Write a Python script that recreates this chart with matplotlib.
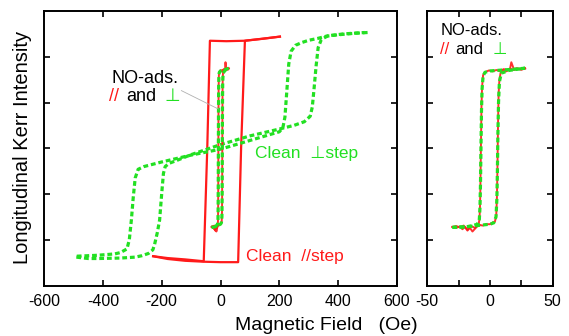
import matplotlib
matplotlib.use("Agg")
import matplotlib.pyplot as plt

plt.rcParams['font.family'] = ['Liberation Sans', 'DejaVu Sans']
plt.rcParams['axes.unicode_minus'] = False

RED = '#ff1a1a'
GREEN = '#22e022'

# Clean surface, field parallel to steps (red, solid)
par_desc_x = [202, 150, 83, 20, -36, -45, -57, -120, -180, -229]
par_desc_y = [2.44, 2.40, 2.35, 2.34, 2.35, 0.0, -2.47, -2.43, -2.40, -2.36]
par_asc_x = [-229, -180, -120, -57, 0, 60, 70, 83, 140, 202]
par_asc_y = [-2.36, -2.42, -2.46, -2.48, -2.49, -2.49, 0.0, 2.35, 2.39, 2.44]

# Clean surface, field perpendicular to steps (green, dotted)
perp_desc_x = [500, 450, 400, 360, 330, 300, 276, 255, 240, 232, 226, 219, 212, 200,
               100, 0, -100, -200, -260, -280, -290, -297, -303, -310, -318, -340,
               -360, -420, -490]
perp_desc_y = [2.53, 2.51, 2.48, 2.45, 2.40, 2.36, 2.31, 2.25, 2.12, 1.84, 1.30, 0.68,
               0.45, 0.36, 0.17, -0.02, -0.15, -0.30, -0.40, -0.46, -0.65, -1.10, -1.57,
               -2.00, -2.20, -2.28, -2.31, -2.34, -2.36]
perp_asc_x = [-490, -450, -416, -340, -290, -268, -245, -230, -224, -215, -207, -200,
              -194, -188, -175, -150, -100, -50, 0, 100, 200, 250, 285, 305, 312, 318,
              325, 332, 343, 366, 420, 490]
perp_asc_y = [-2.38, -2.41, -2.41, -2.40, -2.38, -2.35, -2.30, -2.22, -2.10, -1.85,
              -1.57, -1.00, -0.55, -0.40, -0.33, -0.27, -0.14, -0.03, 0.08, 0.27, 0.42,
              0.50, 0.58, 0.70, 0.90, 1.30, 1.80, 2.20, 2.38, 2.46, 2.50, 2.53]

# NO-adsorbed surface, parallel (red, noisy)
no_par_desc_x = [28, 25, 22, 19, 17, 16, 14, 11, 8, 5, 2, -1, -4, -5.5, -6.3, -6.8,
                 -7.1, -7.4, -7.7, -8.0, -8.4, -9.0, -10, -12, -14, -16, -18, -20, -22,
                 -24, -27, -30]
no_par_desc_y = [1.74, 1.72, 1.75, 1.73, 1.88, 1.74, 1.70, 1.73, 1.69, 1.71, 1.68, 1.70,
                 1.66, 1.60, 1.35, 0.90, 0.30, -0.30, -0.90, -1.30, -1.55, -1.65, -1.70,
                 -1.76, -1.82, -1.74, -1.80, -1.72, -1.77, -1.71, -1.74, -1.72]
no_par_asc_x = [-30, -27, -24, -21, -18, -15, -12, -9, -6, -3, 0, 2, 4, 5.0, 5.5, 5.9,
                6.2, 6.5, 6.9, 7.5, 8.5, 10, 13, 16, 19, 22, 25, 28]
no_par_asc_y = [-1.72, -1.70, -1.73, -1.69, -1.78, -1.70, -1.74, -1.67, -1.69, -1.66,
                -1.66, -1.63, -1.60, -1.45, -1.10, -0.50, 0.10, 0.70, 1.20, 1.50, 1.65,
                1.70, 1.68, 1.74, 1.71, 1.73, 1.72, 1.75]

# NO-adsorbed surface, perpendicular (green)
no_perp_desc_x = [28, 20, 10, 0, -4, -5.5, -6.3, -6.8, -7.2, -7.6, -8.0, -8.5, -10, -15,
                  -20, -25, -30]
no_perp_desc_y = [1.75, 1.73, 1.71, 1.69, 1.66, 1.58, 1.30, 0.80, 0.00, -0.80, -1.30,
                  -1.55, -1.66, -1.70, -1.72, -1.72, -1.73]
no_perp_asc_x = [-30, -20, -10, 0, 3, 4.8, 5.5, 5.9, 6.3, 6.8, 7.5, 9, 15, 20, 28]
no_perp_asc_y = [-1.73, -1.72, -1.69, -1.66, -1.63, -1.50, -1.10, -0.50, 0.30, 1.00,
                 1.45, 1.64, 1.70, 1.72, 1.75]

left_xticks = [-600, -400, -200, 0, 200, 400, 600]
right_xticks = [-50, 0, 50]
right_xminor = [-25, 25]
yticks = [-2, -1, 0, 1, 2]

W, H = 569, 336
fig = plt.figure(figsize=(W / 100, H / 100), dpi=100)
axL = fig.add_axes([44 / W, 1 - 285.5 / H, (397 - 44) / W, (285.5 - 11) / H])
axR = fig.add_axes([427.3 / W, 1 - 285.5 / H, (552.7 - 427.3) / W, (285.5 - 11) / H])

green_dash = (0, (1.5, 0.9))


def draw_no_loop(ax):
    ax.plot(no_par_desc_x, no_par_desc_y, color=RED, lw=1.4, alpha=0.9)
    ax.plot(no_par_asc_x, no_par_asc_y, color=RED, lw=1.4, alpha=0.9)
    ax.plot(no_perp_desc_x, no_perp_desc_y, color=GREEN, lw=2.3, ls=green_dash)
    ax.plot(no_perp_asc_x, no_perp_asc_y, color=GREEN, lw=2.3, ls=green_dash)


# Left panel: clean surface loops
axL.plot(par_desc_x, par_desc_y, color=RED, lw=1.6)
axL.plot(par_asc_x, par_asc_y, color=RED, lw=1.6)
axL.plot(perp_desc_x, perp_desc_y, color=GREEN, lw=2.3, ls=green_dash)
axL.plot(perp_asc_x, perp_asc_y, color=GREEN, lw=2.3, ls=green_dash)
draw_no_loop(axL)

axL.text(117, -0.11, 'Clean  \u22a5step', color=GREEN, fontsize=12.5, va='center', ha='left')
axL.text(88, -2.36, 'Clean  //step', color=RED, fontsize=12.5, va='center', ha='left')
axL.text(-258, 1.53, 'NO-ads.', color='black', fontsize=13, va='center', ha='center')
axL.text(-378, 1.13, '//', color=RED, fontsize=13, va='center', ha='left')
axL.text(-322, 1.13, 'and', color='black', fontsize=13, va='center', ha='left')
axL.text(-192, 1.13, '\u22a5', color=GREEN, fontsize=13, va='center', ha='left')
axL.plot([-133, -8], [1.26, 0.86], color='#b0b0b0', lw=0.6)

axL.set_xlim(-600, 600)
axL.set_xticks(left_xticks)

# Right panel: NO-adsorbed loops on an expanded field scale
draw_no_loop(axR)
axR.text(-39, 2.57, 'NO-ads.', color='black', fontsize=12, va='center', ha='left')
axR.text(-40, 2.15, '//', color=RED, fontsize=12, va='center', ha='left')
axR.text(-28, 2.15, 'and', color='black', fontsize=12, va='center', ha='left')
axR.text(2.2, 2.15, '\u22a5', color=GREEN, fontsize=12, va='center', ha='left')
axR.set_xlim(-50, 50)
axR.set_xticks(right_xticks)
axR.set_xticks(right_xminor, minor=True)

for ax in (axL, axR):
    ax.set_ylim(-3, 3)
    ax.set_yticks(yticks)
    ax.set_yticklabels([])
    for s in ax.spines.values():
        s.set_linewidth(1.4)
    ax.tick_params(which='both', direction='in', top=True, right=True, length=4,
                   width=1.2, labelsize=11.5, pad=6)

fig.text(23 / W, 1 - 147.5 / H, 'Longitudinal Kerr Intensity', rotation=90,
         ha='center', va='center', fontsize=14.5)
fig.text(235 / W, 1 - 325 / H, 'Magnetic Field   (Oe)', ha='left', va='center',
         fontsize=14)

fig.savefig('out.png', dpi=100)
